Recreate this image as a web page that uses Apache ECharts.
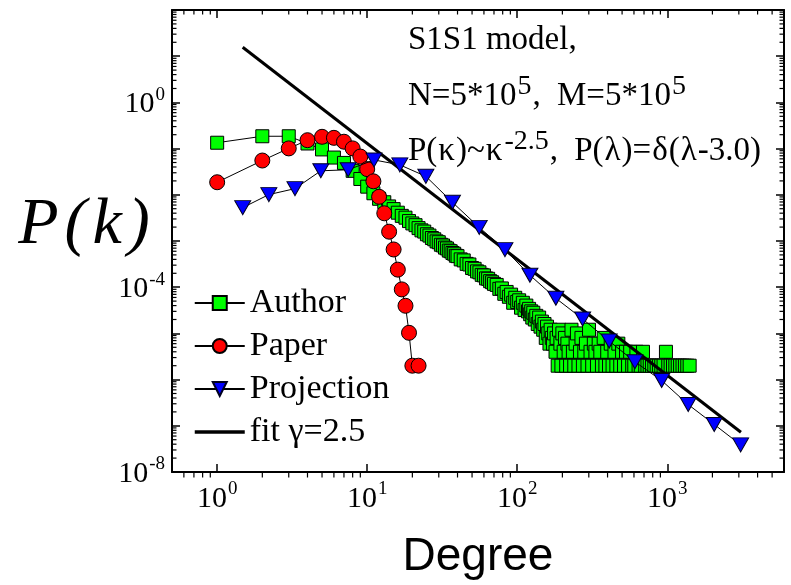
<!DOCTYPE html>
<html>
<head>
<meta charset="utf-8">
<script src="https://cdn.jsdelivr.net/npm/echarts@6/dist/echarts.min.js"></script>
<style>
  html, body { margin: 0; padding: 0; background: #ffffff; }
  #main { width: 791px; height: 585px; }
</style>
</head>
<body>
<div id="main"></div>
<script>
// Degree distributions of the S1S1 model (log-log)

// Author degree distribution: low-degree part
const authorK = [1, 2, 3, 4, 5, 6, 7, 8, 9, 10,
  11, 12, 13, 14, 15, 16, 17, 18, 19, 20,
  21, 22, 23, 24, 25, 26, 27, 28, 29, 30,
  31, 32, 33, 34, 35, 36, 37, 38, 39, 40,
  42, 44, 46, 48, 50, 52, 54, 56, 58, 60,
  62, 64, 66, 68, 70, 73, 76, 79, 82, 85,
  88, 91, 94, 97, 100, 103, 106, 109, 112, 115, 118];
const authorP = [0.134, 0.185, 0.185, 0.129, 0.096, 0.064, 0.049, 0.033, 0.022, 0.015,
  0.0108, 0.0082, 0.0069, 0.0056, 0.0049, 0.0041, 0.0035, 0.0032, 0.0027, 0.0024,
  0.0022, 0.0019, 0.0017, 0.0016, 0.0014, 0.00131, 0.00116, 0.00109, 0.00098, 0.00094,
  0.00083, 0.0008, 0.00072, 0.00069, 0.00062, 0.0006, 0.00055, 0.00053, 0.00048, 0.00047,
  0.0004, 0.00038, 0.00032, 0.00031, 0.00026, 0.00025, 0.00022, 0.00021, 0.000185, 0.00018,
  0.000155, 0.000152, 0.000135, 0.000128, 0.000118, 0.000112, 0.000092, 0.000094, 0.000072, 0.000079,
  0.000062, 0.000069, 0.000046, 0.000059, 0.000048, 0.000052, 0.000036, 0.000046, 0.000032, 0.00004, 0.00003];
// Author degree distribution: sparse tail (single-count resolution 1/N = 2e-6)
const authorTailK = [120, 122, 124, 126, 128, 131, 134, 137, 140, 143,
  146, 149, 152, 155, 158, 161, 164, 167, 170, 173,
  176, 180, 183, 186, 190, 194, 197, 200, 204, 208,
  212, 216, 220, 225, 230, 235, 240, 245, 250, 256,
  262, 268, 274, 280, 287, 294, 301, 308, 316, 324,
  332, 340, 349, 358, 367, 377, 387, 398, 409, 420,
  432, 445, 458, 472, 486, 500, 515, 531, 548, 566,
  584, 603, 623, 644, 666, 689, 713, 738, 764, 791,
  820, 850, 880, 912, 945, 980, 1016, 1053, 1092, 1132,
  1174, 1218, 1264, 1311, 1360, 1410];
const authorTailP = [3.4e-5, 2.6e-5, 3.0e-5, 2.2e-5, 2.8e-5, 2.0e-5, 2.4e-5, 1.6e-5, 2.2e-5, 1.4e-5,
  1.8e-5, 1.2e-5, 1.6e-5, 8e-6, 1.4e-5, 1.0e-5, 6e-6, 1.2e-5, 8e-6, 6e-6,
  1.0e-5, 4e-6, 8e-6, 2e-6, 1.2e-5, 6e-6, 2e-6, 1.0e-5, 4e-6, 8e-6,
  2e-6, 6e-6, 4e-6, 2e-6, 1.2e-5, 4e-6, 2e-6, 6e-6, 1.0e-5, 2e-6,
  4e-6, 8e-6, 2e-6, 4e-6, 6e-6, 2e-6, 1.2e-5, 4e-6, 2e-6, 6e-6,
  4e-6, 2e-6, 6e-6, 4e-6, 2e-6, 8e-6, 2e-6, 4e-6, 2e-6, 6e-6,
  2e-6, 4e-6, 2e-6, 6e-6, 2e-6, 4e-6, 2e-6, 4e-6, 2e-6, 4e-6,
  2e-6, 2e-6, 4e-6, 2e-6, 2e-6, 4e-6, 2e-6, 2e-6, 2e-6, 2e-6,
  2e-6, 2e-6, 2e-6, 2e-6, 2e-6, 4e-6, 2e-6, 2e-6, 2e-6, 2e-6,
  2e-6, 2e-6, 2e-6, 2e-6, 2e-6, 2e-6];

// Paper degree distribution
const paperK = [1, 2, 3, 4, 5, 6, 7, 8, 9, 10, 11, 12, 13, 14, 15, 16, 17, 18, 19, 20, 22];
const paperP = [0.0187, 0.0552, 0.101, 0.152, 0.180, 0.171, 0.141, 0.101, 0.0673, 0.036,
  0.0196, 0.00906, 0.00398, 0.00159, 6.56e-4, 2.4e-4, 8.97e-5, 3.96e-5, 1.03e-5, 2e-6, 2e-6];

// Projection degree distribution (log-binned)
const projK = [1.48, 2.21, 3.30, 4.91, 7.47, 11.1, 16.5, 24.6, 37.0, 55.8,
  82.8, 121.5, 181, 273, 410, 609, 918, 1380, 2057, 3083];
const projP = [0.00527, 0.0101, 0.0136, 0.0331, 0.0348, 0.0569, 0.0445, 0.0251, 0.00687, 0.00197,
  6.5e-4, 1.82e-4, 5.75e-5, 2.05e-5, 6.82e-6, 2.43e-6, 9.53e-7, 2.88e-7, 1.07e-7, 3.87e-8];

// Power-law fit with exponent 2.5 (end points)
const fitK = [1.48, 3099];
const fitP = [15.6, 7.24e-8];

const seriesNames = ['Author', 'Paper', 'Projection', 'fit \u03b3=2.5'];

const SERIF = 'Liberation Serif';
const pairs = (xs, ys) => xs.map((x, i) => [x, ys[i]]);

function powLabel(value, every) {
  const e = Math.round(Math.log10(value));
  if (Math.abs(Math.log10(value) - e) > 1e-6) return '';
  if (e % every !== 0) return '';
  return '{b|10}{s|' + e + '}';
}

const labelRich = {
  b: { fontFamily: SERIF, fontSize: 30, color: '#000', lineHeight: 34, verticalAlign: 'bottom' },
  s: { fontFamily: SERIF, fontSize: 19, color: '#000', lineHeight: 34, verticalAlign: 'top', padding: [0, 0, 0, 1] }
};

const axisCommon = {
  type: 'log',
  logBase: 10,
  axisLine: { show: true, onZero: false, lineStyle: { color: '#000', width: 2 } },
  axisTick: { show: true, inside: true, length: 8, lineStyle: { color: '#000', width: 1.5 } },
  splitLine: { show: false },
  minorTick: { show: false },
  minorSplitLine: { show: false }
};

const X_MIN = 0.5, X_MAX = 6000, Y_MIN = 1e-8, Y_MAX = 100;

const chart = echarts.init(document.getElementById('main'), null, { renderer: 'canvas' });

const option = {
  backgroundColor: '#ffffff',
  animation: false,
  grid: { left: 172, top: 10, right: 7, bottom: 107.5, containLabel: false },
  xAxis: [
    Object.assign({}, axisCommon, {
      position: 'bottom', min: X_MIN, max: X_MAX, splitNumber: 5,
      axisLabel: { show: true, margin: 8, formatter: v => powLabel(v, 1), rich: labelRich,
        showMinLabel: false, showMaxLabel: false },
      name: 'Degree', nameLocation: 'middle', nameGap: 62,
      nameTextStyle: { fontFamily: 'Liberation Sans', fontSize: 46, color: '#000' }
    }),
    Object.assign({}, axisCommon, {
      position: 'top', min: X_MIN, max: X_MAX, splitNumber: 5,
      axisLabel: { show: false }
    })
  ],
  yAxis: [
    Object.assign({}, axisCommon, {
      position: 'left', min: Y_MIN, max: Y_MAX, interval: 1,
      axisLabel: { show: true, margin: 7, formatter: v => powLabel(v, 4), rich: labelRich,
        showMinLabel: true, showMaxLabel: false }
    }),
    Object.assign({}, axisCommon, {
      position: 'right', min: Y_MIN, max: Y_MAX, interval: 1,
      axisLabel: { show: false }
    })
  ],
  legend: {
    data: [seriesNames[0], seriesNames[1], seriesNames[2],
      { name: seriesNames[3], itemStyle: { opacity: 0 }, lineStyle: { width: 3.5, color: '#000' } }],
    orient: 'vertical',
    left: 188,
    top: 281,
    itemWidth: 50,
    itemHeight: 17.5,
    itemGap: 9,
    textStyle: { fontFamily: SERIF, fontSize: 34, color: '#000', lineHeight: 34 },
    inactiveColor: '#000'
  },
  series: [
    {
      name: seriesNames[0], type: 'line', data: pairs(authorK.concat(authorTailK), authorP.concat(authorTailP)),
      xAxisIndex: 0, yAxisIndex: 0,
      symbol: 'rect', symbolSize: 13, showAllSymbol: true,
      lineStyle: { color: '#000', width: 1 },
      itemStyle: { color: '#00ff00', borderColor: '#000', borderWidth: 1 },
      z: 2
    },
    {
      name: seriesNames[1], type: 'line', data: pairs(paperK, paperP),
      xAxisIndex: 0, yAxisIndex: 0,
      symbol: 'circle', symbolSize: 15, showAllSymbol: true,
      lineStyle: { color: '#000', width: 1 },
      itemStyle: { color: '#ff0000', borderColor: '#000', borderWidth: 1 },
      z: 3
    },
    {
      name: seriesNames[3], type: 'line', data: pairs(fitK, fitP),
      xAxisIndex: 0, yAxisIndex: 0,
      symbol: 'none',
      lineStyle: { color: '#000', width: 3 },
      itemStyle: { color: '#000' },
      z: 4
    },
    {
      name: seriesNames[2], type: 'line', data: pairs(projK, projP),
      xAxisIndex: 0, yAxisIndex: 0,
      symbol: 'triangle', symbolRotate: 180, symbolSize: [16, 14], showAllSymbol: true,
      lineStyle: { color: '#000', width: 1 },
      itemStyle: { color: '#0000ff', borderColor: '#000020', borderWidth: 1 },
      z: 5
    }
  ]
};

chart.setOption(option);

// Minor log ticks on all four sides, plus the text annotations
const gfx = [];
const frameLeft = 172, frameTop = 10, frameRight = 791 - 7, frameBottom = 585 - 107.5;
const MINOR = 4.5;
for (let e = -1; e <= 3; e++) {
  for (let m = 2; m <= 9; m++) {
    const v = m * Math.pow(10, e);
    if (v <= X_MIN || v >= X_MAX) continue;
    const px = chart.convertToPixel({ xAxisIndex: 0 }, v);
    gfx.push({ type: 'line', silent: true, shape: { x1: px, y1: frameBottom, x2: px, y2: frameBottom - MINOR }, style: { stroke: '#000', lineWidth: 1.2 } });
    gfx.push({ type: 'line', silent: true, shape: { x1: px, y1: frameTop, x2: px, y2: frameTop + MINOR }, style: { stroke: '#000', lineWidth: 1.2 } });
  }
}
for (let e = -8; e <= 1; e++) {
  for (let m = 2; m <= 9; m++) {
    const v = m * Math.pow(10, e);
    const py = chart.convertToPixel({ yAxisIndex: 0 }, v);
    gfx.push({ type: 'line', silent: true, shape: { x1: frameLeft, y1: py, x2: frameLeft + MINOR, y2: py }, style: { stroke: '#000', lineWidth: 1.2 } });
    gfx.push({ type: 'line', silent: true, shape: { x1: frameRight, y1: py, x2: frameRight - MINOR, y2: py }, style: { stroke: '#000', lineWidth: 1.2 } });
  }
}

const noteRich = {
  t: { fontFamily: SERIF, fontSize: 33, fill: '#000', lineHeight: 40, verticalAlign: 'bottom' },
  c: { fontFamily: SERIF, fontSize: 33, fill: '#000', lineHeight: 40, verticalAlign: 'bottom', padding: [0, 8, 0, 1] },
  g: { fontFamily: SERIF, fontSize: 33, fill: '#000', lineHeight: 40, verticalAlign: 'bottom', padding: [0, 1, 0, 1] },
  s: { fontFamily: SERIF, fontSize: 28, fill: '#000', lineHeight: 40, verticalAlign: 'top', padding: [0, 0, 0, 1] }
};
const notes = [
  { y: 57, text: '{t|S1S1 model,}' },
  { y: 113, text: '{t|N=5*10}{s|5}{c|, }{t|M=5*10}{s|5}' },
  { y: 168, text: '{t|P(}{g|\u03ba}{t|)~}{g|\u03ba}{s|-2.5}{c|, }{t|P(}{g|\u03bb}{t|)=}{g|\u03b4}{t|(}{g|\u03bb}{t|-3.0)}' }
];
notes.forEach(n => {
  gfx.push({
    type: 'text', silent: true, z: 10,
    style: { x: 408, y: n.y, text: n.text, rich: noteRich, verticalAlign: 'bottom', align: 'left' }
  });
});

// Y-axis title, letters slightly spread apart
gfx.push({
  type: 'text', silent: true, z: 10,
  style: { x: 84, y: 226, text: '{p|P}{q|(}{p|k}{q|)}', align: 'center', verticalAlign: 'middle',
    rich: {
      p: { fontFamily: SERIF, fontStyle: 'italic', fontSize: 66, fill: '#000', padding: [0, 3, 0, 3] },
      q: { fontFamily: SERIF, fontStyle: 'italic', fontSize: 66, fill: '#000', padding: [0, 3, 0, 3] }
    } }
});

chart.setOption({ graphic: gfx });
</script>
</body>
</html>
